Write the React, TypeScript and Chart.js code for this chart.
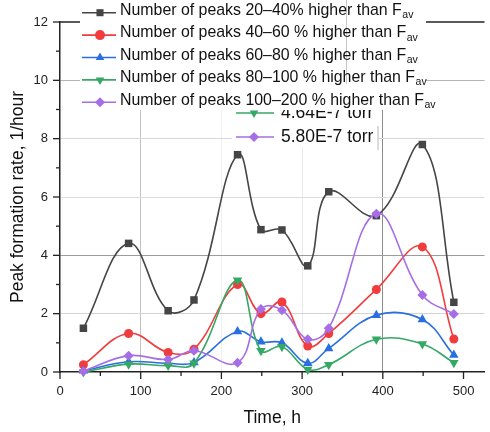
import React, { useEffect, useRef } from 'react';
import { Chart, registerables } from 'chart.js';

Chart.register(...registerables);

// ---- data ----
const times = [29, 85, 134, 166, 220, 249, 275, 307, 333, 392, 449, 488];
const peaks20to40 = [1.5, 4.41, 2.1, 2.47, 7.45, 4.88, 4.87, 3.64, 6.18, 5.36, 7.8, 2.39];
const peaks40to60 = [0.25, 1.32, 0.67, 0.78, 3.0, 2.0, 2.4, 0.89, 1.32, 2.83, 4.29, 1.13];
const peaks60to80 = [0.04, 0.35, 0.3, 0.33, 1.39, 1.04, 1.0, 0.3, 0.81, 1.95, 1.8, 0.58];
const peaks80to100 = [0.0, 0.27, 0.22, 0.3, 3.15, 0.73, 0.87, 0.09, 0.25, 1.12, 0.96, 0.32];
const peaks100to200 = [0.03, 0.56, 0.43, 0.73, 0.32, 2.16, 2.12, 1.12, 1.5, 5.43, 2.64, 1.99];

const seriesLabels = [
  'Number of peaks 20–40% higher than F',
  'Number of peaks 40–60 % higher than F',
  'Number of peaks 60–80 % higher than F',
  'Number of peaks 80–100 % higher than F',
  'Number of peaks 100–200 % higher than F',
];
const subscriptText = 'av';
const fragmentLabels = ['4.64E-7 torr', '5.80E-7 torr'];
const xAxisTitle = 'Time, h';
const yAxisTitle = 'Peak formation rate, 1/hour';

const seriesColors = ['#454545', '#f03c3c', '#2a6fe0', '#34a865', '#a66ee6'];
const seriesMarkers = ['rect', 'circle', 'triangle', 'triangleDown', 'rectRot'];
const seriesValues = [peaks20to40, peaks40to60, peaks60to80, peaks80to100, peaks100to200];

const FONT = "'Liberation Sans', Arial, Helvetica, sans-serif";

function drawMarker(ctx: CanvasRenderingContext2D, style: string, x: number, y: number, r: number, color: string) {
  ctx.save();
  ctx.fillStyle = color;
  ctx.beginPath();
  if (style === 'rect') {
    const s = r * Math.SQRT1_2;
    ctx.rect(x - s, y - s, 2 * s, 2 * s);
  } else if (style === 'circle') {
    ctx.arc(x, y, r, 0, Math.PI * 2);
  } else if (style === 'triangle') {
    ctx.moveTo(x, y - r);
    ctx.lineTo(x + r * 0.866, y + r / 2);
    ctx.lineTo(x - r * 0.866, y + r / 2);
  } else if (style === 'triangleDown') {
    ctx.moveTo(x, y + r);
    ctx.lineTo(x + r * 0.866, y - r / 2);
    ctx.lineTo(x - r * 0.866, y - r / 2);
  } else {
    ctx.moveTo(x, y - r);
    ctx.lineTo(x + r, y);
    ctx.lineTo(x, y + r);
    ctx.lineTo(x - r, y);
  }
  ctx.closePath();
  ctx.fill();
  ctx.restore();
}

const decorPlugin = {
  id: 'decor',
  afterDraw(chart: any) {
    const ctx: CanvasRenderingContext2D = chart.ctx;
    const { left, right, top, bottom } = chart.chartArea;
    const xs = chart.scales.x;
    const ys = chart.scales.y;
    ctx.save();
    // top frame
    ctx.strokeStyle = '#222';
    ctx.lineWidth = 1.5;
    ctx.beginPath();
    ctx.moveTo(left, top);
    ctx.lineTo(right, top);
    ctx.stroke();
    // tick marks
    ctx.lineWidth = 1.3;
    for (let v = 0; v <= 525; v += 50) {
      const px = xs.getPixelForValue(v);
      const len = v % 100 === 0 ? 7 : 4;
      ctx.beginPath();
      ctx.moveTo(px, bottom);
      ctx.lineTo(px, bottom + len);
      ctx.stroke();
    }
    for (let v = 0; v <= 12; v += 1) {
      const py = ys.getPixelForValue(v);
      const len = v % 2 === 0 ? 7 : 4;
      ctx.beginPath();
      ctx.moveTo(left, py);
      ctx.lineTo(left - len, py);
      ctx.stroke();
    }

    // leftover legend fragment
    ctx.fillStyle = '#fff';
    ctx.fillRect(232, 104, 146, 43);
    ctx.strokeStyle = '#b8b8b8';
    ctx.lineWidth = 1;
    ctx.beginPath();
    ctx.moveTo(378, 126);
    ctx.lineTo(378, 150);
    ctx.stroke();
    const fragRows = [
      { y: 113, color: seriesColors[3], marker: 'triangleDown', text: fragmentLabels[0] },
      { y: 137, color: seriesColors[4], marker: 'rectRot', text: fragmentLabels[1] },
    ];
    ctx.font = `17.5px ${FONT}`;
    ctx.textBaseline = 'alphabetic';
    fragRows.forEach((r) => {
      ctx.strokeStyle = r.color;
      ctx.lineWidth = 1.6;
      ctx.beginPath();
      ctx.moveTo(236, r.y);
      ctx.lineTo(274, r.y);
      ctx.stroke();
      drawMarker(ctx, r.marker, 254, r.y, 5, r.color);
      ctx.fillStyle = '#111';
      ctx.fillText(r.text, 281, r.y + 4.5);
    });

    // main legend
    ctx.fillStyle = '#fff';
    ctx.fillRect(80, 0, 346, 110);
    ctx.strokeStyle = '#c8c8c8';
    ctx.lineWidth = 1;
    ctx.beginPath();
    ctx.moveTo(346.5, 0);
    ctx.lineTo(346.5, 84);
    ctx.stroke();
    seriesLabels.forEach((label, i) => {
      const ly = 12.7 + 22.4 * i;
      const color = seriesColors[i];
      ctx.strokeStyle = color;
      ctx.lineWidth = 1.6;
      ctx.beginPath();
      ctx.moveTo(82, ly);
      ctx.lineTo(116, ly);
      ctx.stroke();
      drawMarker(ctx, seriesMarkers[i], 100, ly, 5, color);
      ctx.fillStyle = '#111';
      ctx.font = `15.9px ${FONT}`;
      ctx.fillText(label, 120, ly + 2.3);
      const w = ctx.measureText(label).width;
      ctx.font = `10.5px ${FONT}`;
      ctx.fillText(subscriptText, 120 + w + 0.5, ly + 5.5);
    });
    ctx.restore();
  },
};

export default function App() {
  const ref = useRef<HTMLCanvasElement>(null);
  useEffect(() => {
    if (!ref.current) return;
    const datasets = seriesValues.map((vals, i) => ({
      label: seriesLabels[i] + subscriptText,
      data: times.map((t, j) => ({ x: t, y: vals[j] })),
      borderColor: seriesColors[i],
      backgroundColor: seriesColors[i],
      borderWidth: 1.6,
      pointStyle: seriesMarkers[i] === 'triangleDown' ? 'triangle' : seriesMarkers[i],
      pointRotation: seriesMarkers[i] === 'triangleDown' ? 180 : 0,
      pointRadius: seriesMarkers[i] === 'rect' ? 5.3 : seriesMarkers[i].startsWith('triangle') ? 5.5 : seriesMarkers[i] === 'circle' ? 4.5 : 5,
      pointBorderWidth: 0,
      tension: 0.4,
      order: 5 - i,
      clip: false as any,
    }));
    const xGrid: Record<number, string> = { 100: '#c4c4c4', 200: '#efefef', 300: '#ebebeb', 400: '#8c8c8c' };
    const yGrid: Record<number, string> = { 2: '#d4d4d4', 4: '#9c9c9c', 6: '#dcdcdc', 8: '#d8d8d8', 10: '#b4b4b4' };
    const chart = new Chart(ref.current, {
      type: 'line',
      data: { datasets },
      plugins: [decorPlugin],
      options: {
        animation: false,
        responsive: false,
        layout: { padding: { top: 22, right: 0, left: 0, bottom: 0 } },
        plugins: { legend: { display: false }, tooltip: { enabled: false } },
        scales: {
          x: {
            type: 'linear',
            min: 0,
            max: 526,
            afterFit: (s: any) => { s.height = 60; },
            ticks: {
              stepSize: 100,
              includeBounds: false,
              color: '#222',
              padding: 12,
              font: { family: FONT, size: 13 },
            } as any,
            grid: {
              drawTicks: false,
              color: (c: any) => xGrid[c.tick?.value] || 'rgba(0,0,0,0)',
              lineWidth: 1,
            },
            border: { display: true, color: '#222', width: 1.5 },
            title: {
              display: true,
              text: xAxisTitle,
              color: '#111',
              font: { family: FONT, size: 17.5 },
              padding: { top: 0, bottom: 3 },
            },
          },
          y: {
            type: 'linear',
            min: 0,
            max: 12,
            afterFit: (s: any) => { s.width = 60; },
            ticks: {
              stepSize: 2,
              color: '#222',
              padding: 12,
              font: { family: FONT, size: 13 },
            },
            grid: {
              drawTicks: false,
              color: (c: any) => yGrid[c.tick?.value] || 'rgba(0,0,0,0)',
              lineWidth: 1,
            },
            border: { display: true, color: '#222', width: 1.5 },
            title: {
              display: true,
              text: yAxisTitle,
              color: '#111',
              font: { family: FONT, size: 17.5 },
              padding: { top: 7.5, bottom: 0 },
            },
          },
        },
      },
    });
    return () => chart.destroy();
  }, []);
  return (
    <div style={{ position: 'fixed', left: 0, top: 0, width: 490, height: 432, background: '#fff' }}>
      <canvas ref={ref} width={490} height={432} style={{ display: 'block' }} />
    </div>
  );
}
